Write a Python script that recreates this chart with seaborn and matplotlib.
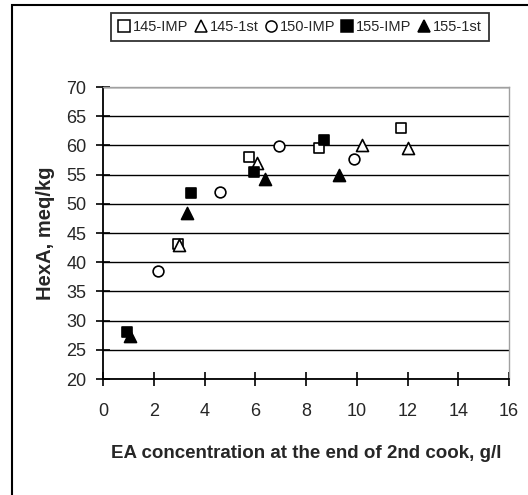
import matplotlib
matplotlib.use("Agg")
import matplotlib.pyplot as plt
import seaborn as sns
import pandas as pd
from matplotlib.lines import Line2D
from matplotlib.patches import Rectangle

sns.set_style("white")
plt.rcParams["font.family"] = ["Liberation Sans", "DejaVu Sans"]

# EA concentration (g/l) and HexA content (meq/kg) per cook series
x_145_imp = [2.95, 5.75, 8.5, 11.75]
y_145_imp = [43.2, 58.0, 59.6, 63.0]
x_145_1st = [3.0, 6.05, 10.2, 12.0]
y_145_1st = [43.0, 57.0, 60.0, 59.5]
x_150_imp = [2.15, 4.6, 6.95, 9.9]
y_150_imp = [38.5, 52.1, 59.9, 57.6]
x_155_imp = [0.95, 3.45, 5.95, 8.7]
y_155_imp = [28.0, 51.8, 55.5, 61.0]
x_155_1st = [1.05, 3.3, 6.4, 9.3]
y_155_1st = [27.4, 48.5, 54.3, 55.0]

series_names = ["145-IMP", "145-1st", "150-IMP", "155-IMP", "155-1st"]
xs = [x_145_imp, x_145_1st, x_150_imp, x_155_imp, x_155_1st]
ys = [y_145_imp, y_145_1st, y_150_imp, y_155_imp, y_155_1st]
markers = ["s", "^", "o", "s", "^"]
faces = ["white", "white", "white", "black", "black"]
sizes = [60, 75, 60, 60, 75]

x_ticks = [0, 2, 4, 6, 8, 10, 12, 14, 16]
y_ticks = [20, 25, 30, 35, 40, 45, 50, 55, 60, 65, 70]

fig = plt.figure(figsize=(5.28, 4.95), dpi=100)
ax = fig.add_axes([103 / 528, 1 - 379 / 495, 406 / 528, 292 / 495])

for name, xv, yv, m, fc, s in zip(series_names, xs, ys, markers, faces, sizes):
    df = pd.DataFrame({"x": xv, "y": yv})
    sns.scatterplot(data=df, x="x", y="y", ax=ax, marker=m, s=s,
                    facecolor=fc, edgecolor="black", linewidth=1.2,
                    zorder=3, legend=False)

ax.set_xlim(0, 16)
ax.set_ylim(20, 70)
ax.set_xticks(x_ticks)
ax.set_yticks(y_ticks)
ax.set_xticklabels([str(t) for t in x_ticks], fontsize=13)
ax.set_yticklabels([str(t) for t in y_ticks], fontsize=13)
ax.yaxis.grid(True, color="black", linewidth=1.0)
ax.set_axisbelow(True)

ax.tick_params(axis="both", direction="inout", length=10, width=1.2,
               color="black", bottom=True, left=True)
ax.tick_params(axis="x", pad=12)
ax.tick_params(axis="y", pad=7)

for side in ["left", "bottom"]:
    ax.spines[side].set_color("black")
    ax.spines[side].set_linewidth(1.3)
for side in ["top", "right"]:
    ax.spines[side].set_color("#a0a0a0")
    ax.spines[side].set_linewidth(1.0)

ax.set_xlabel("EA concentration at the end of 2nd cook, g/l",
              fontsize=13.5, fontweight="bold", labelpad=18)
ax.set_ylabel("HexA, meq/kg", fontsize=14.5, fontweight="bold", labelpad=8)

handles = [Line2D([], [], linestyle="none", marker=m, markersize=8,
                  markerfacecolor=fc, markeredgecolor="black",
                  markeredgewidth=1.1)
           for m, fc in zip(markers, faces)]
leg = fig.legend(handles, series_names, loc="center",
                 bbox_to_anchor=(300 / 528, 1 - 27 / 495), ncol=5,
                 fontsize=10.5, frameon=True, fancybox=False,
                 handlelength=0.8, handletextpad=0.2, columnspacing=0.45,
                 borderpad=0.5, borderaxespad=0)
leg.get_frame().set_edgecolor("black")
leg.get_frame().set_linewidth(1.3)

# outer chart frame
fig.patches.append(Rectangle((12 / 528, -0.1), 1.2, 1 - 5 / 495 + 0.1,
                             transform=fig.transFigure, fill=False,
                             edgecolor="black", linewidth=1.5))

fig.savefig("out.png", dpi=100)
